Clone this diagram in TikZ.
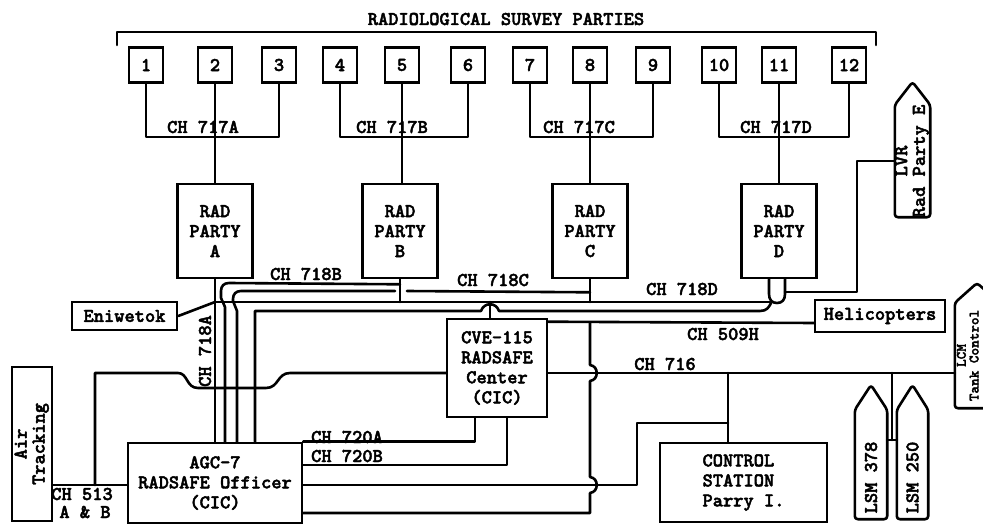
\documentclass[tikz,border=0pt]{standalone}
\usepackage{fontspec}
\newfontfamily\tw{lmmonolt10-bold.otf}[FakeBold=2.2]
\usetikzlibrary{calc}
\begin{document}
\begin{tikzpicture}[x=1pt,y=-1pt,
  wire/.style={line width=2.6pt, line join=round, line cap=round},
  txt/.style={font=\tw\fontsize{19.5}{20}\selectfont},
  box/.style={txt, draw, line width=2.6pt, inner sep=0pt, align=center},
  lbl/.style={txt, inner sep=0pt, anchor=base},
  body/.style={inner sep=0pt, minimum width=#1},
]
\useasboundingbox (0,0) rectangle (983,524);
\clip (0,0) rectangle (983,524);
\fill[white] (0,0) rectangle (983,524);

% title and bracket
\node[lbl] (title) at (506,25) {RADIOLOGICAL SURVEY PARTIES};
\coordinate (bl) at (117,45);
\coordinate (br) at (876,45);
\draw[wire] (bl) -- (117,32) -- (876,32) -- (br);

% survey party boxes
\foreach \n/\x in {1/146,2/215,3/279,4/340,5/402,6/468,7/530,8/590,9/653,10/719,11/779,12/849}
  \node[box, minimum width=34pt, minimum height=35pt] (p\n) at (\x,65) {\n};

% rad party boxes
\node[box, minimum width=75pt, minimum height=94pt] (radA) at (215,231) {RAD\\PARTY\\A};
\node[box, minimum width=75pt, minimum height=94pt] (radB) at (400,231) {RAD\\PARTY\\B};
\node[box, minimum width=75pt, minimum height=94pt] (radC) at (590,231) {RAD\\PARTY\\C};
\node[box, minimum width=75pt, minimum height=94pt] (radD) at (779,231) {RAD\\PARTY\\D};

% other boxes
\node[box, minimum width=105pt, minimum height=28pt] (eni) at (124.5,316) {Eniwetok};
\node[box, minimum width=130pt, minimum height=32pt] (heli) at (880,316) {Helicopters};
\node[box, minimum width=100pt, minimum height=98pt] (cve) at (497,368) {CVE-115\\RADSAFE\\Center\\(CIC)};
\node[box, minimum width=174pt, minimum height=80pt] (agc) at (215,483) {AGC-7\\RADSAFE Officer\\(CIC)};
\node[box, minimum width=167pt, minimum height=79pt, align=left] (ctrl) at (743.5,482.5) {CONTROL\\STATION\\Parry I.};
\node[box, minimum width=40pt, minimum height=154pt] (air) at (32,444)
  {\rotatebox{90}{\renewcommand{\arraystretch}{0.9}\begin{tabular}{@{}c@{}}Air\\Tracking\end{tabular}}};

% ships
\node[body=35pt, minimum height=112pt] (lvr) at (912.5,161) {};
\coordinate (lvrtip) at (912.5,82);
\draw[wire, rounded corners=3pt] (lvr.south west) -- (lvr.north west) -- (lvrtip) -- (lvr.north east) -- (lvr.south east) -- cycle;
\node[txt, inner sep=0pt] (lvrtext) at (lvr.center)
  {\rotatebox{90}{\renewcommand{\arraystretch}{0.88}\begin{tabular}{@{}c@{}}LVR\\Rad Party E\end{tabular}}};

\node[body=44pt, minimum height=105pt] (lcm) at (977,355.5) {};
\coordinate (lcmtip) at (977,283);
\draw[wire, rounded corners=3pt] (lcm.south west) -- (lcm.north west) -- (lcmtip) -- (lcm.north east) -- (lcm.south east) -- cycle;
\node[inner sep=0pt, font=\tw\fontsize{14.5}{14.5}\selectfont] (lcmtext) at (969.5,355.5)
  {\rotatebox{90}{\renewcommand{\arraystretch}{0.85}\begin{tabular}{@{}c@{}}LCM\\Tank Control\end{tabular}}};

\node[body=32pt, minimum height=109pt] (lsmA) at (871,464.5) {};
\coordinate (lsmAtip) at (871,385);
\draw[wire, rounded corners=3pt] (lsmA.south west) -- (lsmA.north west) -- (lsmAtip) -- (lsmA.north east) -- (lsmA.south east) -- cycle;
\node[txt, inner sep=0pt] (lsmAtext) at (lsmA.center) {\rotatebox{90}{LSM 378\hspace{26pt}}};

\node[body=31pt, minimum height=109pt] (lsmB) at (912.5,464.5) {};
\coordinate (lsmBtip) at (912.5,385);
\draw[wire, rounded corners=3pt] (lsmB.south west) -- (lsmB.north west) -- (lsmBtip) -- (lsmB.north east) -- (lsmB.south east) -- cycle;
\node[txt, inner sep=0pt] (lsmBtext) at (lsmB.center) {\rotatebox{90}{LSM 250\hspace{26pt}}};

% channel labels
\node[lbl] (l717a) at (203,133) {CH 717A};
\node[lbl] (l717b) at (392,133) {CH 717B};
\node[lbl] (l717c) at (579,133) {CH 717C};
\node[lbl] (l717d) at (776,133) {CH 717D};
\node[lbl] (l718b) at (306,280) {CH 718B};
\node[lbl] (l718c) at (493,286) {CH 718C};
\node[lbl] (l718d) at (682,295) {CH 718D};
\node[lbl] (l509h) at (723,340) {CH 509H};
\node[lbl] (l716) at (665,370) {CH 716};
\node[lbl] (l720a) at (347,443) {CH 720A};
\node[lbl] (l720b) at (347,462) {CH 720B};
\node[txt, inner sep=0pt, rotate=90] (l718a) at (205,351) {CH 718A};
\node[lbl] (l513a) at (82,500) {CH 513};
\node[lbl] (l513b) at (85,518) {A \& B};

% survey party buses
\coordinate (bus) at (0,137);
\draw[wire] (p1.south) |- (p2.south |- bus) -| (p3.south);
\draw[wire] (p2.south) -- (radA.north);
\draw[wire] (p4.south) |- (p5.south |- bus) -| (p6.south);
\draw[wire] (p5.south) -- (p5.south |- radB.north);
\draw[wire] (p7.south) |- (p8.south |- bus) -| (p9.south);
\draw[wire] (p8.south) -- (radC.north);
\draw[wire] (p10.south) |- (p11.south |- bus) -| (p12.south);
\draw[wire] (p11.south) -- (radD.north);

% CH 718A and Eniwetok
\coordinate (jA) at (215,302);
\draw[wire] (radA.south) -- (agc.north);
\draw[wire] (eni.east) -- (jA);

% common net at y=302
\draw[wire] (jA) -- (770,302);
\draw[wire] (radB.south) -- (radB.south |- jA);
\draw[wire] (radC.south) -- (radC.south |- jA);
\coordinate (cveT) at ([xshift=-7pt]cve.north);
\draw[wire] (cveT) -- (cveT |- jA);
\draw[wire] ([xshift=-10pt]radD.south) -- (769,294) .. controls (769,300) and (772,303) .. (777,303)
   .. controls (782,303) and (785,300) .. (785,294) -- ([xshift=6pt]radD.south);

% CH 718B
\draw[wire] ([yshift=-5pt]radB.south) -- (229,283) .. controls (224,283) and (221,286) .. (221,291)
   -- (221,298) -- (225,307) -- ([xshift=10pt]agc.north);
% CH 718C
\draw[wire] ([yshift=-13pt]radC.south) -- (407,291);
\draw[wire] (395,291) -- (241,291) .. controls (236,291) and (233,294) .. (233,299)
   -- (233,301) -- (237,311) -- ([xshift=22pt]agc.north);
% AGC to RAD D at y=311
\draw[wire] ([xshift=40pt]agc.north) -- (255,311) -- (481,311) .. controls (484,302) and (496,302) .. (499,311)
   -- (760,311) .. controls (767,311) and (769,307) .. (771,303);

% LVR
\draw[wire] (785,292) -- (857,292) |- (lvr.west);

% CH 509H
\draw[wire] ([yshift=-4pt]cve.north east) -- ([yshift=-7pt]heli.west);
\coordinate (j509) at (590,323);
\draw[wire] (j509) -- (590,365) .. controls (599,366) and (599,380) .. (590,381)
   -- (590,477) .. controls (599,478) and (599,492) .. (590,493) -- (590,513) -- ([yshift=-30pt]agc.east);

% CH 513 and left loop
\draw[wire] ([yshift=-41pt]air.east) -- ([yshift=-2pt]agc.west);
\coordinate (j513) at (95,485);
\draw[wire] (j513) -- (95,373) -- (178,373) .. controls (188,373) and (186,388) .. (198,388)
   -- (266,388) .. controls (279,388) and (277,373) .. (290,373) -- ([yshift=-5pt]cve.west);

% CH 716
\draw[wire] ([yshift=-5pt]cve.east) -- ([yshift=-17.5pt]lcm.west);
\coordinate (j716c) at (728,373);
\draw[wire] (j716c) -- (j716c |- ctrl.north);
\coordinate (j716l) at (892,373);
\draw[wire] (j716l) -- (892,440);
\draw[wire] ([yshift=24.5pt]lsmA.east) -- ([yshift=24.5pt]lsmB.west);

% CH 720A / 720B and lower lines
\draw[wire] ([xshift=-22pt]cve.south) |- (agc.north east);
\draw[wire] ([xshift=10pt]cve.south) |- ([yshift=18pt]agc.east);
\draw[wire] ([yshift=-2pt]agc.east) -- (637,485) |- (j716c |- 0,423);
\end{tikzpicture}
\end{document}
